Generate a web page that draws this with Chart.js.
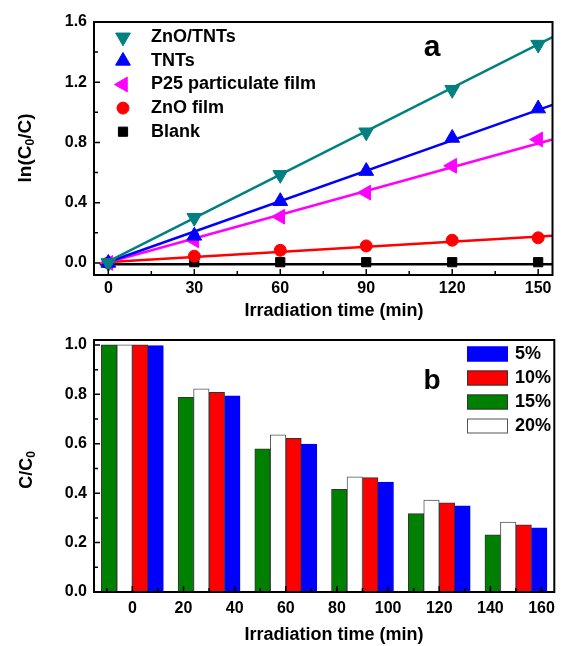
<!DOCTYPE html>
<html>
<head>
<meta charset="utf-8">
<script src="https://cdn.jsdelivr.net/npm/chart.js@4.4.1/dist/chart.umd.min.js"></script>
<style>
  body { margin: 0; background: #fff; }
  canvas { display: block; }
</style>
</head>
<body>
<canvas id="chartA" width="562" height="320"></canvas>
<canvas id="chartB" width="562" height="326"></canvas>
<script>
// ---- panel a: ln(C0/C) vs time ----
const timesA = [0, 30, 60, 90, 120, 150];
const znoTnts = [0, 0.30, 0.585, 0.868, 1.15, 1.45];
const tnts = [0, 0.18, 0.41, 0.61, 0.83, 1.025];
const p25Film = [0, 0.15, 0.307, 0.467, 0.645, 0.82];
const znoFilm = [0, 0.045, 0.084, 0.113, 0.151, 0.167];
const blank = [0, 0.005, 0.005, 0.005, 0.005, 0.005];

// fitted straight lines, read at both ends
const fitXA = [-1, 155];
const fitZnoTnts = [0, 1.50];
const fitTnts = [0, 1.05];
const fitP25 = [0, 0.82];
const fitZnoFilm = [0.005, 0.18];
const fitBlank = [-0.008, -0.008];

const xTicksA = [0, 30, 60, 90, 120, 150];
const xMinorA = [15, 45, 75, 105, 135];
const yTicksA = [0, 0.4, 0.8, 1.2, 1.6];
const yMinorA = [0.2, 0.6, 1.0, 1.4];

// ---- panel b: C/C0 bars ----
const timesB = [0, 30, 60, 90, 120, 150];
const pct15 = [1.0, 0.788, 0.579, 0.416, 0.317, 0.231];
const pct20 = [1.0, 0.822, 0.636, 0.466, 0.372, 0.283];
const pct10 = [1.0, 0.808, 0.622, 0.463, 0.361, 0.272];
const pct5 = [0.997, 0.794, 0.599, 0.445, 0.349, 0.260];
const legendOrderB = ['5%', '10%', '15%', '20%'];

const xTicksB = [0, 20, 40, 60, 80, 100, 120, 140, 160];
const xMinorB = [-10, 10, 30, 50, 70, 90, 110, 130, 150];
const yTicksB = [0, 0.2, 0.4, 0.6, 0.8, 1.0];
const yMinorB = [0.1, 0.3, 0.5, 0.7, 0.9];

const FONT = "'Liberation Sans', Arial, Helvetica, sans-serif";
Chart.defaults.font.family = FONT;
Chart.defaults.color = '#000';

const TEAL = '#008080', BLUE = '#0000ff', MAGENTA = '#ff00ff', RED = '#ff0000', GREEN = '#008000';

function pts(xs, ys) {
  return xs.map((x, i) => ({ x: x, y: ys[i] }));
}

// frame, inward ticks, axis titles, panel letter and legend
function makeDecor(cfg) {
  return {
    id: 'decor',
    afterDraw(chart) {
      const { ctx, chartArea: a, scales } = chart;
      ctx.save();
      ctx.strokeStyle = '#000';
      ctx.lineWidth = 1.5;
      ctx.beginPath();
      const xt = (vals, len) => vals.forEach(v => {
        const p = scales.x.getPixelForValue(v);
        ctx.moveTo(p, a.bottom); ctx.lineTo(p, a.bottom - len);
      });
      const yt = (vals, len) => vals.forEach(v => {
        const p = scales.y.getPixelForValue(v);
        ctx.moveTo(a.left, p); ctx.lineTo(a.left + len, p);
      });
      xt(cfg.xMajor, 6); xt(cfg.xMinor, 4);
      yt(cfg.yMajor, 6); yt(cfg.yMinor, 4);
      ctx.stroke();
      ctx.lineWidth = 2;
      ctx.strokeRect(a.left, a.top, a.right - a.left, a.bottom - a.top);

      // x title
      ctx.fillStyle = '#000';
      ctx.font = 'bold 18px ' + FONT;
      ctx.textAlign = 'center';
      ctx.textBaseline = 'middle';
      ctx.fillText(cfg.xTitle.text, cfg.xTitle.x, cfg.xTitle.y);

      // y title with subscript
      const t = cfg.yTitle;
      ctx.save();
      ctx.translate(t.x, t.y);
      ctx.rotate(-Math.PI / 2);
      const big = 'bold ' + t.size + 'px ' + FONT, small = 'bold 12px ' + FONT;
      let w = 0;
      t.parts.forEach(p => { ctx.font = p[1] ? small : big; w += ctx.measureText(p[0]).width; });
      let x = -w / 2;
      ctx.textAlign = 'left';
      ctx.textBaseline = 'alphabetic';
      t.parts.forEach(p => {
        ctx.font = p[1] ? small : big;
        ctx.fillText(p[0], x, p[1] ? 10 : 6.5);
        x += ctx.measureText(p[0]).width;
      });
      ctx.restore();

      // panel letter
      ctx.font = 'bold ' + cfg.letter.size + 'px ' + FONT;
      ctx.textAlign = 'center';
      ctx.textBaseline = 'alphabetic';
      ctx.fillText(cfg.letter.text, cfg.letter.x, cfg.letter.y);

      cfg.legend(ctx, chart);
      ctx.restore();
    }
  };
}

const tickFont = { size: 16, weight: 'bold' };

// ---- chart a ----
new Chart(document.getElementById('chartA'), {
  type: 'scatter',
  data: {
    datasets: [
      { label: 'ZnO/TNTs', data: pts(timesA, znoTnts), pointStyle: 'triangle', pointRotation: 180, pointRadius: 8.5,
        pointBackgroundColor: TEAL, pointBorderColor: TEAL },
      { label: 'TNTs', data: pts(timesA, tnts), pointStyle: 'triangle', pointRotation: 0, pointRadius: 8.5,
        pointBackgroundColor: BLUE, pointBorderColor: BLUE },
      { label: 'P25 particulate film', data: pts(timesA, p25Film), pointStyle: 'triangle', pointRotation: 270, pointRadius: 8.5,
        pointBackgroundColor: MAGENTA, pointBorderColor: MAGENTA },
      { label: 'ZnO film', data: pts(timesA, znoFilm), pointStyle: 'circle', pointRadius: 6,
        pointBackgroundColor: RED, pointBorderColor: RED },
      { label: 'Blank', data: pts(timesA, blank), pointStyle: 'rect', pointRadius: 6.5,
        pointBackgroundColor: '#000', pointBorderColor: '#000' },
      { type: 'line', data: pts(fitXA, fitZnoTnts), borderColor: TEAL, borderWidth: 2.5, pointRadius: 0 },
      { type: 'line', data: pts(fitXA, fitTnts), borderColor: BLUE, borderWidth: 2.5, pointRadius: 0 },
      { type: 'line', data: pts(fitXA, fitP25), borderColor: MAGENTA, borderWidth: 2.5, pointRadius: 0 },
      { type: 'line', data: pts(fitXA, fitZnoFilm), borderColor: RED, borderWidth: 2.5, pointRadius: 0 },
      { type: 'line', data: pts([-3, 155], fitBlank), borderColor: '#000', borderWidth: 2.5, pointRadius: 0 }
    ]
  },
  options: {
    responsive: false,
    animation: false,
    layout: { padding: { top: 22, right: 5, left: 0, bottom: 0 } },
    plugins: { legend: { display: false }, tooltip: { enabled: false } },
    scales: {
      x: {
        type: 'linear', min: -5, max: 155,
        grid: { display: false, drawTicks: false }, border: { display: false },
        afterBuildTicks: s => { s.ticks = xTicksA.map(v => ({ value: v })); },
        afterFit: s => { s.height = 45; },
        ticks: { padding: 4, font: tickFont, color: '#000', maxRotation: 0, autoSkip: false }
      },
      y: {
        min: -0.08, max: 1.6,
        grid: { display: false, drawTicks: false }, border: { display: false },
        afterBuildTicks: s => { s.ticks = yTicksA.map(v => ({ value: v })); },
        afterFit: s => { s.width = 94; },
        ticks: { padding: 7, font: tickFont, color: '#000', callback: v => v.toFixed(1) }
      }
    }
  },
  plugins: [makeDecor({
    xMajor: xTicksA, xMinor: xMinorA, yMajor: yTicksA, yMinor: yMinorA,
    xTitle: { text: 'Irradiation time (min)', x: 334, y: 311 },
    yTitle: { x: 24, y: 148, size: 19, parts: [['ln(C', false], ['0', true], ['/C)', false]] },
    letter: { text: 'a', x: 432, y: 56, size: 30 },
    legend: (ctx, chart) => {
      chart.data.datasets.filter(d => d.label).forEach((d, i) => {
        const y = 37.3 + i * 23.6;
        ctx.fillStyle = d.pointBackgroundColor;
        ctx.strokeStyle = d.pointBorderColor;
        ctx.lineWidth = 1;
        Chart.helpers.drawPoint(ctx, { pointStyle: d.pointStyle, rotation: d.pointRotation || 0,
          radius: d.pointRadius, borderWidth: 1 }, 123, y);
        ctx.fillStyle = '#000';
        ctx.font = 'bold 18px ' + FONT;
        ctx.textAlign = 'left';
        ctx.textBaseline = 'middle';
        ctx.fillText(d.label, 151, y);
      });
    }
  })]
});

// ---- chart b ----
new Chart(document.getElementById('chartB'), {
  type: 'bar',
  data: {
    datasets: [
      { label: '15%', data: pts(timesB, pct15), backgroundColor: GREEN, borderColor: '#333', borderWidth: 1 },
      { label: '20%', data: pts(timesB, pct20), backgroundColor: '#fff', borderColor: '#555', borderWidth: 1 },
      { label: '10%', data: pts(timesB, pct10), backgroundColor: RED, borderColor: '#333', borderWidth: 1 },
      { label: '5%', data: pts(timesB, pct5), backgroundColor: BLUE, borderColor: BLUE, borderWidth: 1 }
    ]
  },
  options: {
    responsive: false,
    animation: false,
    barThickness: 15.5,
    layout: { padding: { top: 20, right: 5, left: 0, bottom: 0 } },
    plugins: { legend: { display: false }, tooltip: { enabled: false } },
    scales: {
      x: {
        type: 'linear', min: -15, max: 165, offset: false,
        grid: { display: false, drawTicks: false, offset: false }, border: { display: false },
        afterBuildTicks: s => { s.ticks = xTicksB.map(v => ({ value: v })); },
        afterFit: s => { s.height = 54; },
        ticks: { padding: 7, font: tickFont, color: '#000', maxRotation: 0, autoSkip: false, callback: v => String(v) }
      },
      y: {
        min: 0, max: 1.02,
        grid: { display: false, drawTicks: false }, border: { display: false },
        afterBuildTicks: s => { s.ticks = yTicksB.map(v => ({ value: v })); },
        afterFit: s => { s.width = 94; },
        ticks: { padding: 7, font: tickFont, color: '#000', callback: v => v.toFixed(1) }
      }
    }
  },
  plugins: [makeDecor({
    xMajor: xTicksB, xMinor: xMinorB, yMajor: yTicksB, yMinor: yMinorB,
    xTitle: { text: 'Irradiation time (min)', x: 334, y: 315 },
    yTitle: { x: 25, y: 150, size: 18, parts: [['C/C', false], ['0', true]] },
    letter: { text: 'b', x: 432, y: 69, size: 28 },
    legend: (ctx, chart) => {
      legendOrderB.forEach((lab, i) => {
        const d = chart.data.datasets.find(ds => ds.label === lab);
        const y = 34 + i * 24;
        ctx.fillStyle = d.backgroundColor;
        ctx.fillRect(467, y - 7.5, 41, 15);
        ctx.strokeStyle = d.borderColor;
        ctx.lineWidth = 1;
        ctx.strokeRect(467.5, y - 7, 40, 14);
        ctx.fillStyle = '#000';
        ctx.font = 'bold 18px ' + FONT;
        ctx.textAlign = 'left';
        ctx.textBaseline = 'middle';
        ctx.fillText(lab, 515, y);
      });
    }
  })]
});
</script>
</body>
</html>
